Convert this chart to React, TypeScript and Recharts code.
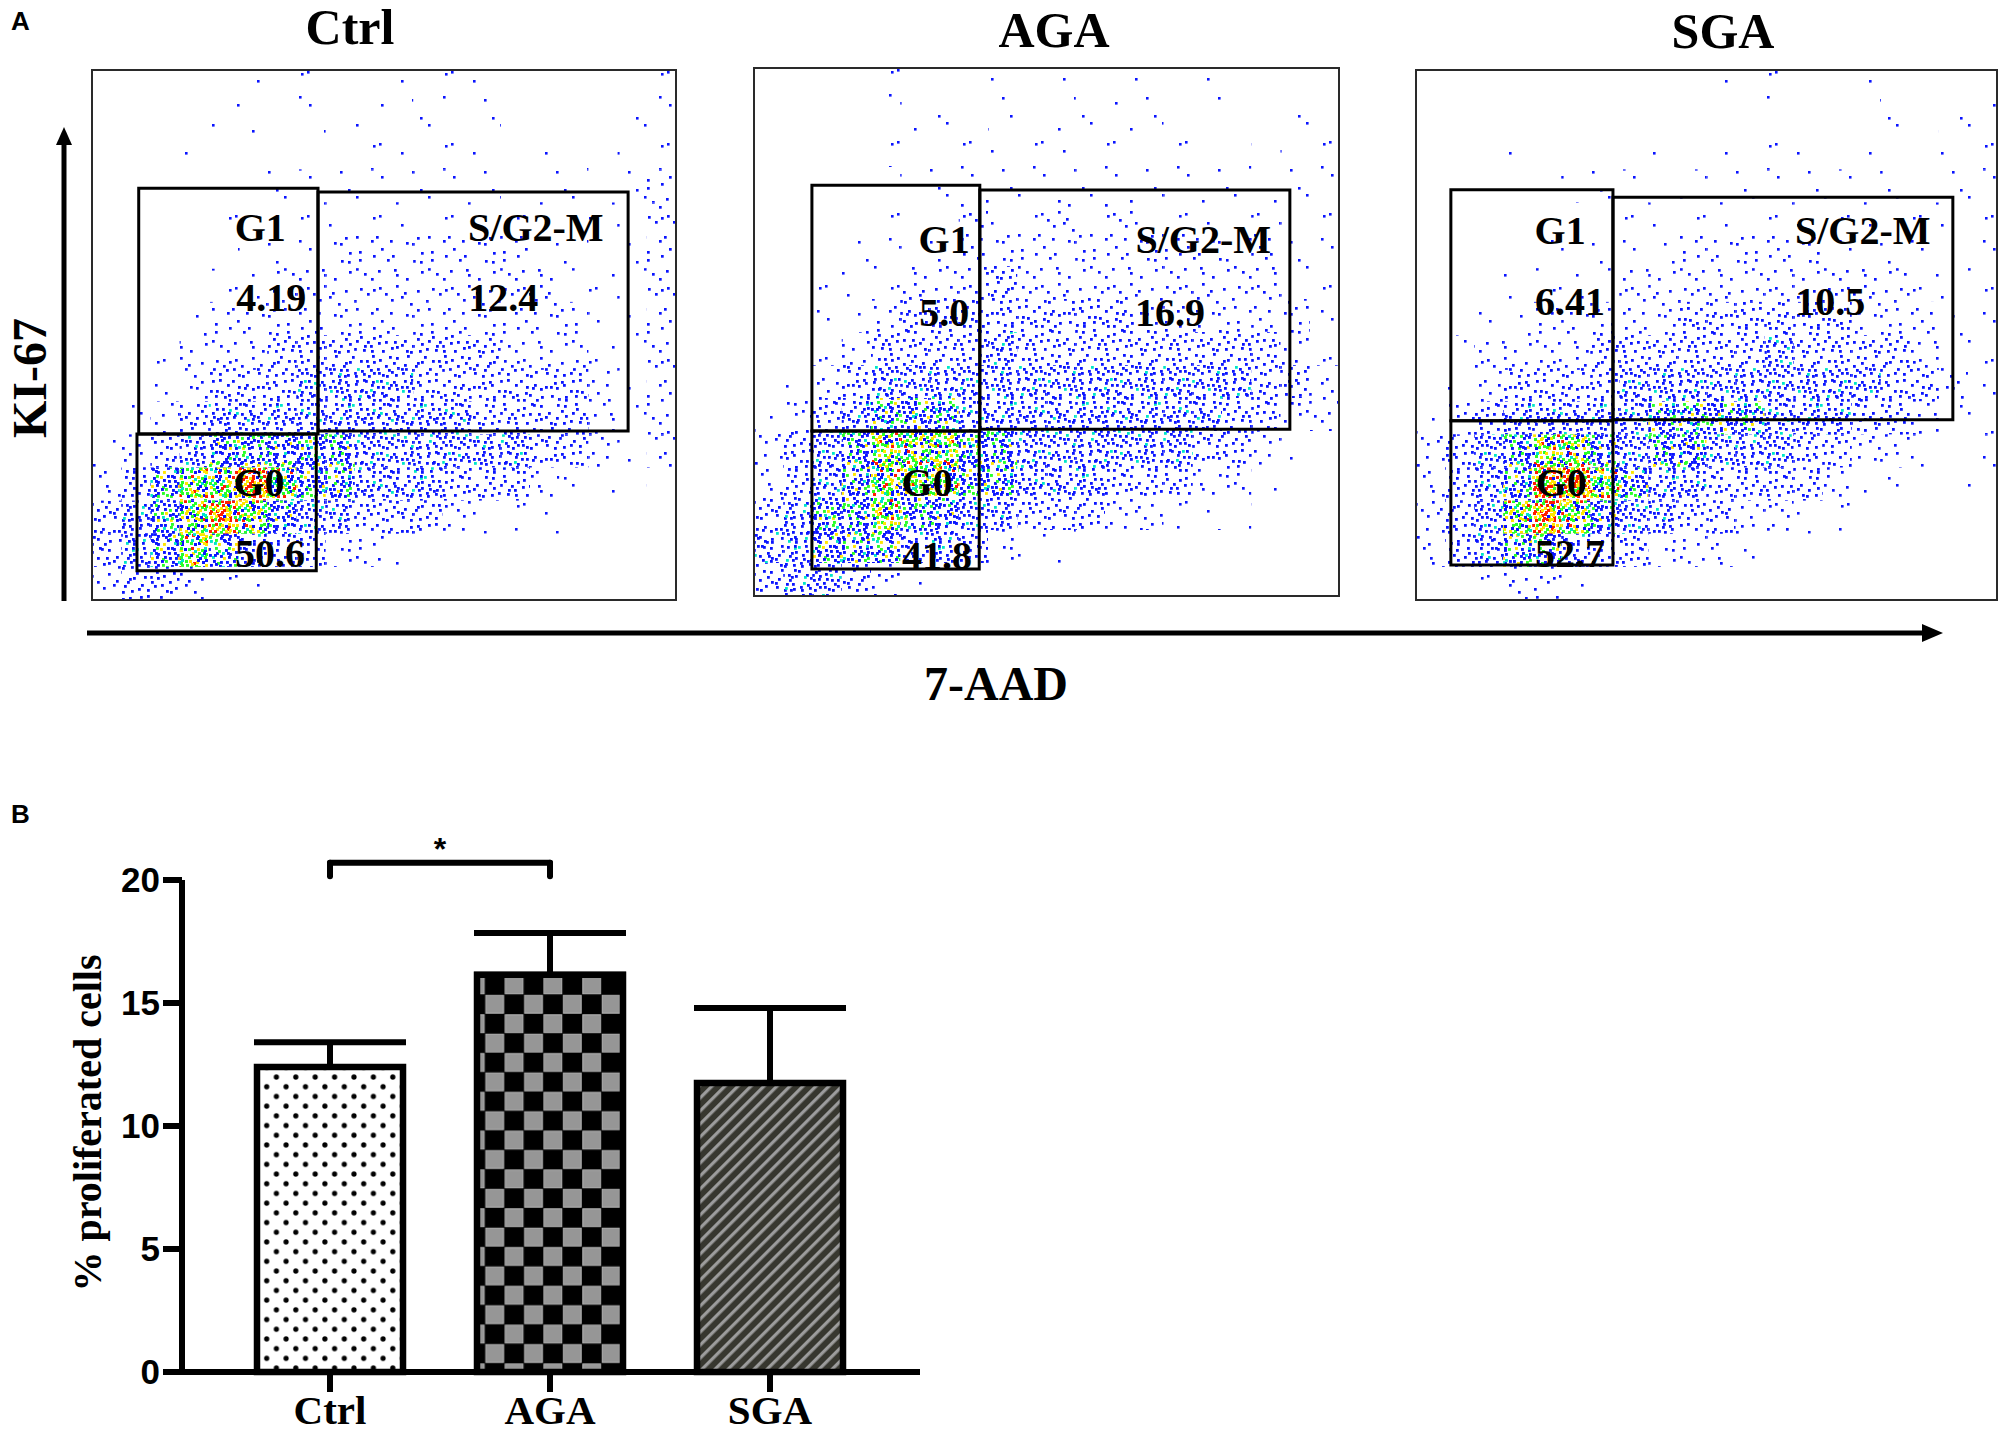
import React from 'react'
import {
  ScatterChart, Scatter, XAxis, YAxis, ReferenceArea, ReferenceDot,
  BarChart, Bar, Cell, ErrorBar, ReferenceLine,
} from 'recharts'

const SERIF = '"Liberation Serif", "Times New Roman", serif'
const SANS = '"Liberation Sans", Arial, sans-serif'

// ---- panel A: Ki-67 / 7-AAD flow plots ----
const PANEL_NAMES = ['Ctrl', 'AGA', 'SGA']
const GATE_NAMES = ['G1', 'S/G2-M', 'G0']

const CTRL_PCT = ['4.19', '12.4', '50.6']
const AGA_PCT = ['5.0', '16.9', '41.8']
const SGA_PCT = ['6.41', '10.5', '52.7']

// gates as [x1, x2, y1, y2] on a 0-100 scale (G1, S/G2-M, G0)
const CTRL_GATES = [[8.0, 38.7, 31.3, 77.7], [38.7, 91.8, 31.9, 77.0], [7.7, 38.4, 5.5, 31.3]]
const AGA_GATES = [[9.9, 38.6, 31.25, 77.8], [38.6, 91.6, 31.6, 76.9], [9.9, 38.5, 5.1, 31.25]]
const SGA_GATES = [[6.0, 33.9, 33.8, 77.4], [33.9, 92.4, 34.0, 76.0], [6.0, 33.9, 6.6, 33.8]]

// event density, 20 cols x 16 rows, top row first (0 = empty, 7 = red core)
const CTRL_DENSITY = [
  '00000101001011000001',
  '00001101010101000011',
  '00010010011011011011',
  '00000011111111011012',
  '00001011111111111112',
  '00000111222222211012',
  '00001122222222221112',
  '00012222222222222112',
  '00122233333333222112',
  '00123334444333333212',
  '01234444444443333212',
  '12345555544444433212',
  '23566765544433321101',
  '34567654433321110000',
  '34565433221000000000',
  '23321100000000000000',
]
const AGA_DENSITY = [
  '00001000101001010000',
  '00000110101111000010',
  '00001011111110101011',
  '00000111111111111011',
  '00001012112121111111',
  '00011112222222221211',
  '00111222322222222211',
  '00112333333332222221',
  '00123333433333333321',
  '01234444444444444332',
  '12345554444444443322',
  '23456665544444433210',
  '23456665544433322100',
  '34556554433322111000',
  '44555443211000000000',
  '34432110000000000000',
]
const SGA_DENSITY = [
  '00000000001010010000',
  '00000000000000001011',
  '00010000101011010011',
  '00000111011111111011',
  '00000011111111111111',
  '00001111122222111101',
  '00011112222222222111',
  '00112222233333322211',
  '01222233333343333211',
  '01233334444444443321',
  '12344444555544433211',
  '23456654554443322101',
  '23457765443333211001',
  '23467654433221100000',
  '23455433222100000000',
  '01122110000000000000',
]

// ---- panel B: bar chart ----
const GROUPS = ['Ctrl', 'AGA', 'SGA']
const MEAN = [12.4, 16.15, 11.75]
const SEM = [1.0, 1.7, 3.05]
const Y_TICKS = [0, 5, 10, 15, 20]
const SIG_Y = 20.7
const SIG_DROP = 20.15

// layout
const PANEL_BOX = [
  { x: 92, y: 70, w: 584, h: 530 },
  { x: 754, y: 68, w: 585, h: 528 },
  { x: 1416, y: 70, w: 581, h: 530 },
]
const TITLE_POS = [{ x: 350, y: 44 }, { x: 1054, y: 47 }, { x: 1723, y: 48 }]
// label centres [nameX, nameY, valueX, valueY] per gate
const CTRL_LABEL_POS = [[28.8, 70.4, 30.7, 57.2], [76.0, 70.4, 70.4, 57.2], [28.6, 22.3, 30.5, 8.9]]
const AGA_LABEL_POS = [[32.5, 67.6, 32.5, 53.8], [76.8, 67.6, 71.1, 53.8], [29.6, 21.6, 31.3, 7.8]]
const SGA_LABEL_POS = [[24.8, 69.8, 26.5, 56.4], [76.9, 69.8, 71.3, 56.4], [25.0, 22.3, 26.5, 8.9]]

const PANELS = [
  { pct: CTRL_PCT, gates: CTRL_GATES, density: CTRL_DENSITY, labels: CTRL_LABEL_POS },
  { pct: AGA_PCT, gates: AGA_GATES, density: AGA_DENSITY, labels: AGA_LABEL_POS },
  { pct: SGA_PCT, gates: SGA_GATES, density: SGA_DENSITY, labels: SGA_LABEL_POS },
]

const COLS = 20
const ROWS = 16
const M = 4

// speckle texture: dot spots inside each 24px block of a 72px tile
const SPECK = [
  [3, 5], [15, 17], [9, 11], [20, 3], [6, 20], [13, 2], [21, 13], [1, 14], [17, 8], [10, 21],
  [4, 10], [19, 20], [12, 15], [7, 1], [21, 7], [15, 11], [2, 18], [8, 6], [18, 15], [11, 19],
  [20, 1], [5, 14], [14, 6], [0, 2], [16, 21], [9, 16], [20, 10], [3, 21], [12, 9], [21, 18],
  [6, 8], [17, 3], [10, 4], [1, 8], [14, 20], [19, 6], [7, 17], [21, 21], [4, 2], [13, 13],
  [16, 18], [8, 12], [20, 16], [2, 12], [11, 1], [18, 11],
]
const SPECK_COLORS: Record<string, string> = {
  b: '#0a14ff', c: '#00e6c8', g: '#28ff28', y: '#ffe600', r: '#ff1e00',
}
const LEVELS = [
  null,
  { n: 1, s: 2.6, cycle: 'b' },
  { n: 4, s: 2.7, cycle: 'b' },
  { n: 10, s: 2.8, cycle: 'b' },
  { n: 18, s: 2.8, cycle: 'bbbbbbbbc' },
  { n: 28, s: 2.9, cycle: 'bbgbcbbgbybb' },
  { n: 37, s: 3, cycle: 'gybgcygbyrgb' },
  { n: 46, s: 3, cycle: 'yryrgyrbyrgr' },
]
const TILE = 72
const BLOCKS = Array.from({ length: 9 }, (_, b) => [(b % 3) * 24, Math.floor(b / 3) * 24, (b * 7) % 46])

function toCells(rows: string[]) {
  const out: { x: number; y: number; level: number }[] = []
  rows.forEach((row, r) => {
    row.split('').forEach((ch, c) => {
      const level = Number(ch)
      if (level > 0) out.push({ x: ((c + 0.5) * 100) / COLS, y: 100 - ((r + 0.5) * 100) / ROWS, level })
    })
  })
  return out
}

function FlowPanel({ idx }: { idx: number }) {
  const box = PANEL_BOX[idx]
  const panel = PANELS[idx]
  const cells = toCells(panel.density)
  const cw = box.w / COLS
  const ch = box.h / ROWS
  const pre = `sp${idx}`
  const labelStyle = { fontFamily: SERIF, fontWeight: 700, fontSize: 40, fill: '#000' }

  return (
    <div style={{ position: 'absolute', left: box.x - M, top: box.y - M }}>
      <ScatterChart width={box.w + 2 * M} height={box.h + 2 * M} margin={{ top: M, right: M, bottom: M, left: M }}>
        <defs>
          {LEVELS.map((lv, i) =>
            lv ? (
              <pattern key={i} id={`${pre}-l${i}`} width={TILE} height={TILE} patternUnits="userSpaceOnUse">
                {BLOCKS.map(([ox, oy, shift], q) =>
                  Array.from({ length: lv.n }, (_, k) => {
                    const [sx, sy] = SPECK[(k + shift) % SPECK.length]
                    return (
                      <rect key={`${q}-${k}`} x={ox + sx} y={oy + sy} width={lv.s} height={lv.s}
                        fill={SPECK_COLORS[lv.cycle[(k + q * 5) % lv.cycle.length]]} />
                    )
                  })
                )}
              </pattern>
            ) : null
          )}
        </defs>
        <XAxis type="number" dataKey="x" domain={[0, 100]} hide />
        <YAxis type="number" dataKey="y" domain={[0, 100]} hide />
        <Scatter
          data={cells}
          isAnimationActive={false}
          shape={(p: any) => (
            <rect x={p.cx - cw / 2} y={p.cy - ch / 2} width={cw} height={ch} fill={`url(#${pre}-l${p.payload.level})`} />
          )}
        />
        <ReferenceArea x1={0} x2={100} y1={0} y2={100} fill="none" fillOpacity={0} stroke="#2a2a2a" strokeWidth={2} ifOverflow="visible" zIndex={1500} />
        {panel.gates.map((g, i) => (
          <ReferenceArea
            key={`g${i}`}
            x1={g[0]} x2={g[1]} y1={g[2]} y2={g[3]}
            fill="none" fillOpacity={0} stroke="#000" strokeWidth={3}
            ifOverflow="visible" zIndex={1500}
          />
        ))}
        {panel.labels.map((l, i) => (
          <ReferenceDot key={`n${i}`} x={l[0]} y={l[1]} r={0} fill="none" stroke="none" ifOverflow="visible" zIndex={1600}
            label={{ value: GATE_NAMES[i], position: 'center', ...labelStyle }} />
        ))}
        {panel.labels.map((l, i) => (
          <ReferenceDot key={`v${i}`} x={l[2]} y={l[3]} r={0} fill="none" stroke="none" ifOverflow="visible" zIndex={1600}
            label={{ value: panel.pct[i], position: 'center', ...labelStyle }} />
        ))}
      </ScatterChart>
    </div>
  )
}

const BAR_FILLS = ['barDots', 'barCheck', 'barStripes']

function ProliferationBars() {
  const data = GROUPS.map((g, i) => ({ group: g, mean: MEAN[i], err: [0, SEM[i]] }))
  const yLabel = (p: any) => {
    const vb = p.viewBox
    const cx = 87
    const cy = vb.y + vb.height / 2 - 3
    return (
      <text x={cx} y={cy} transform={`rotate(-90, ${cx}, ${cy})`} textAnchor="middle" dominantBaseline="central"
        fontFamily={SERIF} fontWeight={700} fontSize={40} fill="#000">
        % proliferated cells
      </text>
    )
  }
  return (
    <div style={{ position: 'absolute', left: 0, top: 820 }}>
      <BarChart width={1000} height={614} data={data} margin={{ top: 60, right: 80, bottom: 0, left: 0 }}>
        <defs>
          <pattern id="barDots" width={19.4} height={19.4} patternUnits="userSpaceOnUse">
            <rect width={19.4} height={19.4} fill="#fff" />
            <circle cx={4.8} cy={4.8} r={2.6} fill="#000" />
            <circle cx={14.5} cy={14.5} r={2.6} fill="#000" />
          </pattern>
          <pattern id="barCheck" width={38.8} height={38.8} patternUnits="userSpaceOnUse">
            <rect width={38.8} height={38.8} fill="#000" />
            <rect x={0.8} y={0.8} width={17.8} height={17.8} fill="#969696" stroke="#b4b4b4" strokeWidth={1} />
            <rect x={20.2} y={20.2} width={17.8} height={17.8} fill="#969696" stroke="#b4b4b4" strokeWidth={1} />
          </pattern>
          <pattern id="barStripes" width={9.2} height={9.2} patternUnits="userSpaceOnUse" patternTransform="rotate(45)">
            <rect width={9.2} height={9.2} fill="#37372f" />
            <rect x={0} y={0} width={3.2} height={9.2} fill="#9c9c9c" />
          </pattern>
        </defs>
        <XAxis
          dataKey="group"
          height={62}
          interval={0}
          padding={{ left: 38, right: 40 }}
          tickSize={20}
          tickMargin={3}
          axisLine={{ stroke: '#000', strokeWidth: 6 }}
          tickLine={{ stroke: '#000', strokeWidth: 6 }}
          tick={{ fontFamily: SERIF, fontWeight: 700, fontSize: 41, fill: '#000' }}
        />
        <YAxis
          width={182}
          domain={[0, 20]}
          ticks={Y_TICKS}
          tickSize={19}
          tickMargin={3}
          axisLine={{ stroke: '#000', strokeWidth: 6 }}
          tickLine={{ stroke: '#000', strokeWidth: 6 }}
          tick={{ fontFamily: SANS, fontWeight: 700, fontSize: 35, fill: '#000' }}
          label={yLabel}
        />
        <Bar dataKey="mean" barSize={146} stroke="#000" strokeWidth={6.5} isAnimationActive={false}>
          {data.map((d, i) => (
            <Cell key={d.group} fill={`url(#${BAR_FILLS[i]})`} />
          ))}
          <ErrorBar dataKey="err" direction="y" width={76} stroke="#000" strokeWidth={6} />
        </Bar>
        <ReferenceLine
          segment={[{ x: GROUPS[0], y: SIG_Y }, { x: GROUPS[1], y: SIG_Y }]}
          stroke="#000" strokeWidth={6} strokeLinecap="round" ifOverflow="visible"
          label={{ value: '*', position: 'top', offset: 3, fontFamily: SANS, fontWeight: 700, fontSize: 32, fill: '#000' }}
        />
        <ReferenceLine segment={[{ x: GROUPS[0], y: SIG_Y }, { x: GROUPS[0], y: SIG_DROP }]}
          stroke="#000" strokeWidth={6} strokeLinecap="round" ifOverflow="visible" />
        <ReferenceLine segment={[{ x: GROUPS[1], y: SIG_Y }, { x: GROUPS[1], y: SIG_DROP }]}
          stroke="#000" strokeWidth={6} strokeLinecap="round" ifOverflow="visible" />
      </BarChart>
    </div>
  )
}

export default function App() {
  const title = { fontFamily: SERIF, fontWeight: 700, fontSize: 50, fill: '#000' }
  return (
    <div style={{ position: 'relative', width: 2001, height: 1434, background: '#fff', overflow: 'hidden' }}>
      <style>{'body{margin:0}'}</style>
      <svg width={2001} height={1434} style={{ position: 'absolute', left: 0, top: 0 }}>
        <text x={11} y={30} fontFamily={SANS} fontWeight={700} fontSize={26} fill="#000">A</text>
        <text x={11} y={823} fontFamily={SANS} fontWeight={700} fontSize={26} fill="#000">B</text>
        {PANEL_NAMES.map((n, i) => (
          <text key={n} x={TITLE_POS[i].x} y={TITLE_POS[i].y} textAnchor="middle" {...title}>{n}</text>
        ))}
        <line x1={64} y1={601} x2={64} y2={140} stroke="#000" strokeWidth={5} />
        <polygon points="64,127 56,145 72,145" fill="#000" />
        <line x1={87} y1={633} x2={1926} y2={633} stroke="#000" strokeWidth={5} />
        <polygon points="1943,633 1922,624 1922,642" fill="#000" />
        <text transform="translate(29,378) rotate(-90)" textAnchor="middle" dominantBaseline="central" {...title} fontSize={48}>KI-67</text>
        <text x={996} y={700} textAnchor="middle" {...title} fontSize={48}>7-AAD</text>
      </svg>
      {PANELS.map((_, i) => (
        <FlowPanel key={i} idx={i} />
      ))}
      <ProliferationBars />
    </div>
  )
}
